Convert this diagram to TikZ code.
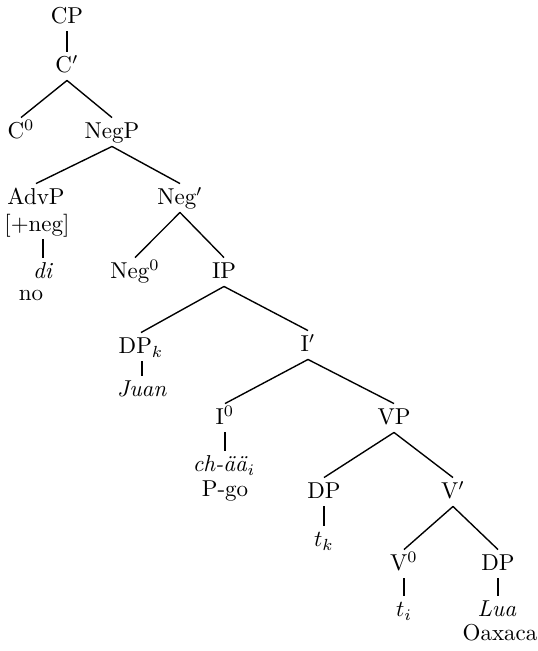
\documentclass[tikz,border=0pt]{standalone}
\begin{document}
\begin{tikzpicture}[x=0.435pt, y=-0.435pt, line width=0.6pt,
    every node/.style={inner sep=2pt, text height=1.6ex, text depth=.25ex}]
    \useasboundingbox (0,0) rectangle (538,651);
    \node (cp) at (67,17) {CP};
    \node (cbar) at (67,66) {C$'$};
    \node (czero) at (21,132) {C$^0$};
    \node (negp) at (112,132) {NegP};
    \node (advp) at (36,198) {AdvP};
    \node (feat) at (37,225) {[+neg]};
    \node (di) at (43,272) {\textit{di}};
    \node (no) at (31,294) {no};
    \node (negbar) at (180,198) {Neg$'$};
    \node (negzero) at (135,272) {Neg$^0$};
    \node (ip) at (224,272) {IP};
    \node (dpk) at (141,347) {DP$_k$};
    \node (juan) at (142,390) {\textit{Juan}};
    \node (ibar) at (308,345) {I$'$};
    \node (izero) at (225,418) {I$^0$};
    \node (verb) at (224,465) {\textit{ch-\"a\"a}$_i$};
    \node (gloss) at (225,490) {P-go};
    \node (vp) at (394,418) {VP};
    \node (dpt) at (324,492) {DP};
    \node (tk) at (324,540) {$t_k$};
    \node (vbar) at (453,492) {V$'$};
    \node (vzero) at (404,564) {V$^0$};
    \node (ti) at (404,610) {$t_i$};
    \node (dpo) at (498,564) {DP};
    \node (lua) at (497,610) {\textit{Lua}};
    \node (oaxaca) at (500,634) {Oaxaca};
    \draw (cp) -- (cbar);
    \draw (cbar.south) -- (czero.north);
    \draw (cbar.south) -- (negp.north);
    \draw (negp.south) -- (advp.north);
    \draw (negp.south) -- (negbar.north);
    \draw (feat.south -| di) -- (di.north);
    \draw (negbar.south) -- (negzero.north);
    \draw (negbar.south) -- (ip.north);
    \draw (ip.south) -- (dpk.north);
    \draw (ip.south) -- (ibar.north);
    \draw (dpk.south -| juan) -- (juan.north);
    \draw (ibar.south) -- (izero.north);
    \draw (ibar.south) -- (vp.north);
    \draw (izero.south) -- (izero.south |- verb.north);
    \draw (vp.south) -- (dpt.north);
    \draw (vp.south) -- (vbar.north);
    \draw (dpt) -- (tk);
    \draw (vbar.south) -- (vzero.north);
    \draw (vbar.south) -- (dpo.north);
    \draw (vzero) -- (ti);
    \draw (dpo.south) -- (dpo.south |- lua.north);
\end{tikzpicture}
\end{document}
